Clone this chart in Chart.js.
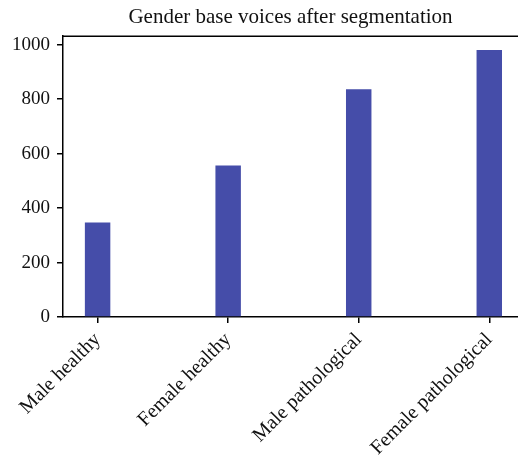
<!DOCTYPE html>
<html>
<head>
<meta charset="utf-8">
<script src="https://cdn.jsdelivr.net/npm/chart.js@4"></script>
<style>
  html, body { margin: 0; padding: 0; background: #fff; }
  #wrap { width: 518px; height: 466px; }
</style>
</head>
<body>
<div id="wrap"><canvas id="mycanvas" width="518" height="466"></canvas></div>
<script>
var categories = ["Male healthy", "Female healthy", "Male pathological", "Female pathological"];
var voices = [347, 556, 836, 980];
var yTicks = [0, 200, 400, 600, 800, 1000];

var points = [];
for (var i in voices) {
	points.push({x: Number(i), y: voices[i]});
}

// line along the top of the plot box
var topBorder = {
	id: 'topBorder',
	afterDraw: function(chart) {
		var a = chart.chartArea;
		var c = chart.ctx;
		c.save();
		c.strokeStyle = '#000';
		c.lineWidth = 1.5;
		c.beginPath();
		c.moveTo(a.left, a.top);
		c.lineTo(a.right, a.top);
		c.stroke();
		c.restore();
	}
};

var font = "'Liberation Serif', 'Times New Roman', serif";

var ctx = document.getElementById("mycanvas");
var barGraph = new Chart(ctx, {
	type: 'bar',
	data: {
		datasets: [{
			label: 'Voices',
			backgroundColor: '#454DA9',
			borderWidth: 0,
			data: points,
			barPercentage: 0.195,
			categoryPercentage: 1
		}]
	},
	options: {
		responsive: false,
		animation: false,
		layout: { padding: 0 },
		plugins: {
			legend: { display: false },
			tooltip: { enabled: false },
			title: {
				display: true,
				text: 'Gender base voices after segmentation',
				fullSize: false,
				color: '#111',
				font: { family: font, size: 21, weight: 'normal' },
				padding: { top: 5, bottom: 6 }
			}
		},
		scales: {
			x: {
				type: 'linear',
				offset: false,
				min: -0.265,
				max: 3.22,
				afterFit: function(s) { s.height = 149; },
				ticks: {
					stepSize: 1,
					includeBounds: false,
					autoSkip: false,
					minRotation: 45,
					maxRotation: 45,
					padding: 5,
					color: '#111',
					font: { family: font, size: 20 },
					callback: function(v) { return categories[v]; }
				},
				grid: { offset: false, drawOnChartArea: false, drawTicks: true, tickLength: 6, color: '#000', lineWidth: 1.5 },
				border: { display: true, color: '#000', width: 1.5 }
			},
			y: {
				min: 0,
				max: 1031,
				afterFit: function(s) { s.width = 63; },
				afterBuildTicks: function(s) {
					s.ticks = yTicks.map(function(v) { return {value: v}; });
				},
				ticks: {
					padding: 7,
					color: '#111',
					font: { family: font, size: 19 },
					callback: function(v) { return String(v); }
				},
				grid: { drawOnChartArea: false, drawTicks: true, tickLength: 6, color: '#000', lineWidth: 1.5 },
				border: { display: true, color: '#000', width: 1.5 }
			}
		}
	},
	plugins: [topBorder]
});
</script>
</body>
</html>
